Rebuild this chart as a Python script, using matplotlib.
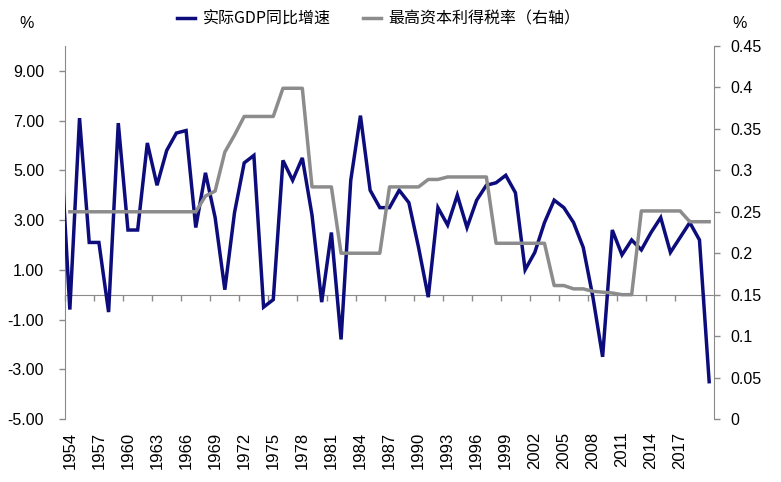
import matplotlib
matplotlib.use("Agg")
import matplotlib.pyplot as plt
from matplotlib.lines import Line2D
from matplotlib.ticker import FuncFormatter

# ---- data ----
gdp_years = list(range(1953, 2021))
gdp_growth = [6.4, -0.6, 7.1, 2.1, 2.1, -0.7, 6.9, 2.6, 2.6, 6.1, 4.4, 5.8, 6.5, 6.6,
              2.7, 4.9, 3.1, 0.2, 3.3, 5.3, 5.6, -0.5, -0.2, 5.4, 4.6, 5.5, 3.2, -0.3,
              2.5, -1.8, 4.6, 7.2, 4.2, 3.5, 3.5, 4.2, 3.7, 1.9, -0.1, 3.5, 2.8, 4.0,
              2.7, 3.8, 4.4, 4.5, 4.8, 4.1, 1.0, 1.7, 2.9, 3.8, 3.5, 2.9, 1.9, -0.1,
              -2.5, 2.6, 1.6, 2.2, 1.8, 2.5, 3.1, 1.7, 2.3, 2.9, 2.2, -3.5]
tax_years = list(range(1954, 2021))
tax_rate = [0.25] * 14 + [0.269, 0.275, 0.322, 0.3425, 0.365, 0.365, 0.365, 0.365,
            0.399, 0.399, 0.399, 0.28, 0.28, 0.28, 0.20, 0.20, 0.20, 0.20, 0.20,
            0.28, 0.28, 0.28, 0.28, 0.289, 0.289, 0.292, 0.292, 0.292, 0.292, 0.292,
            0.212, 0.212, 0.212, 0.212, 0.212, 0.212, 0.161, 0.161, 0.157, 0.157,
            0.154, 0.153, 0.152, 0.15, 0.15, 0.251, 0.251, 0.251, 0.251, 0.251,
            0.238, 0.238, 0.238]
xtick_years = list(range(1954, 2018, 3))
left_ticks = [-5, -3, -1, 1, 3, 5, 7, 9]
right_ticks = [0, 0.05, 0.1, 0.15, 0.2, 0.25, 0.3, 0.35, 0.4, 0.45]
label_gdp = "实际GDP同比增速"
label_tax = "最高资本利得税率（右轴）"

# ---- style ----
BLUE = "#0c0c7c"
GRAY = "#8c8c8c"
AXC = "#8a8a8a"
plt.rcParams["font.family"] = ["Liberation Sans", "Noto Sans CJK SC", "DejaVu Sans"]

fig = plt.figure(figsize=(7.81, 4.82), dpi=100)
ax = fig.add_axes([65 / 781, 1 - 419 / 482, (714 - 65) / 781, (419 - 46) / 482])

ax.plot(gdp_years, gdp_growth, color=BLUE, lw=2.5, solid_joinstyle="miter", zorder=3)
ax.set_xlim(1953.5, 2020.5)
ax.set_ylim(-5, 10)
ax.set_yticks(left_ticks)
ax.yaxis.set_major_formatter(FuncFormatter(lambda v, p: f"{v:.2f}"))
ax.tick_params(axis="y", direction="out", length=4, color=AXC, width=1,
               labelsize=11.5, pad=11)
ax.set_xticks(xtick_years)
ax.set_xticklabels([str(y) for y in xtick_years], rotation=90)
ax.tick_params(axis="x", length=0, labelsize=12, pad=9)
for s in ["top", "bottom", "right"]:
    ax.spines[s].set_visible(False)
ax.spines["left"].set_color(AXC)

# zero line with ticks
sec = ax.secondary_xaxis(1 / 3)
sec.set_xticks([y - 0.5 for y in range(1954, 2021, 3)])
sec.set_xticklabels([])
sec.tick_params(axis="x", direction="out", length=4, color=AXC, width=1)
for s in sec.spines.values():
    s.set_color(AXC)

ax2 = ax.twinx()
ax2.plot(tax_years, tax_rate, color=GRAY, lw=2.5, zorder=3)
ax2.set_ylim(0, 0.45)
ax2.set_yticks(right_ticks)
ax2.yaxis.set_major_formatter(FuncFormatter(lambda v, p: f"{v:g}"))
ax2.tick_params(axis="y", direction="out", length=4, color=AXC, width=1,
                labelsize=11.5, pad=8)
for s in ["top", "bottom", "left"]:
    ax2.spines[s].set_visible(False)
ax2.spines["right"].set_color(AXC)

fig.text(27 / 781, 1 - 24 / 482, "%", fontsize=11.5, ha="center", va="center")
fig.text(740 / 781, 1 - 24 / 482, "%", fontsize=11.5, ha="center", va="center")

handles = [Line2D([], [], color=BLUE, lw=2.5), Line2D([], [], color=GRAY, lw=2.5)]
fig.legend(handles, [label_gdp, label_tax], loc="center",
           bbox_to_anchor=(379 / 781, 1 - 19 / 482), ncol=2, frameon=False,
           handlelength=1.1, handletextpad=0.5, columnspacing=2.0,
           prop={"family": ["Noto Sans CJK SC", "DejaVu Sans"], "size": 11.5})

fig.savefig("out.png", dpi=100)
